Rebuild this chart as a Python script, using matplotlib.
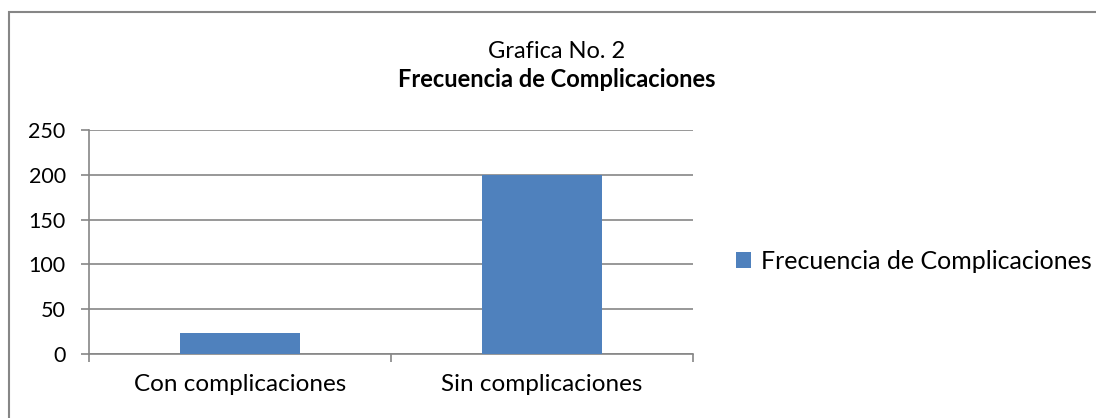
import matplotlib.pyplot as plt
from matplotlib.patches import Rectangle

# data
categories = ['Con complicaciones', 'Sin complicaciones']
frecuencia = [24, 200]
y_ticks = [0, 50, 100, 150, 200, 250]
series_name = 'Frecuencia de Complicaciones'

plt.rcParams['font.family'] = ['Lato', 'DejaVu Sans']

fig = plt.figure(figsize=(10.96, 4.18), dpi=100)
ax = fig.add_axes([0.0812, 0.153, 0.5511, 0.536])

# a. outer chart frame (runs off the right and bottom edges)
fig.patches.append(Rectangle((8.5 / 1096, -0.05), 1.1, 1.05 - 12 / 418,
                             transform=fig.transFigure, fill=False,
                             edgecolor='#868686', linewidth=1.5))

# b. bars
grid_col = '#868686'
x = range(len(categories))
ax.bar(x, frecuencia, width=0.4, color='#4F81BD', label=series_name, zorder=3)

ax.set_xlim(-0.5, 1.5)
ax.set_ylim(0, 250)
ax.set_yticks(y_ticks)
ax.yaxis.grid(True, color=grid_col, linewidth=1.2, zorder=0)

# c. axes styling
for side in ['top', 'right']:
    ax.spines[side].set_visible(False)
for side in ['left', 'bottom']:
    ax.spines[side].set_color(grid_col)
    ax.spines[side].set_linewidth(1.2)

ax.tick_params(axis='y', colors=grid_col, length=5.8, width=1.2, labelsize=15.5,
               labelcolor='black', pad=11)
ax.set_xticks([-0.5, 0.5, 1.5])
ax.set_xticklabels([])
ax.tick_params(axis='x', colors=grid_col, length=5.8, width=1.2)
for i, c in enumerate(categories):
    ax.text(i, -0.135, c, transform=ax.get_xaxis_transform(), ha='center', va='center', fontsize=17.5)

# d. title
fig.text(557 / 1096, 1 - 58 / 418, 'Grafica No. 2', ha='center', va='baseline', fontsize=17)
fig.text(557 / 1096, 1 - 87 / 418, series_name, ha='center', va='baseline', fontsize=17, fontweight='bold')

# e. legend
ax.legend(loc='center left', bbox_to_anchor=(1.055, 0.415), frameon=False, fontsize=18,
          handlelength=0.6, handleheight=0.6, handletextpad=0.4, borderaxespad=0)

fig.savefig('out.png', dpi=100)
